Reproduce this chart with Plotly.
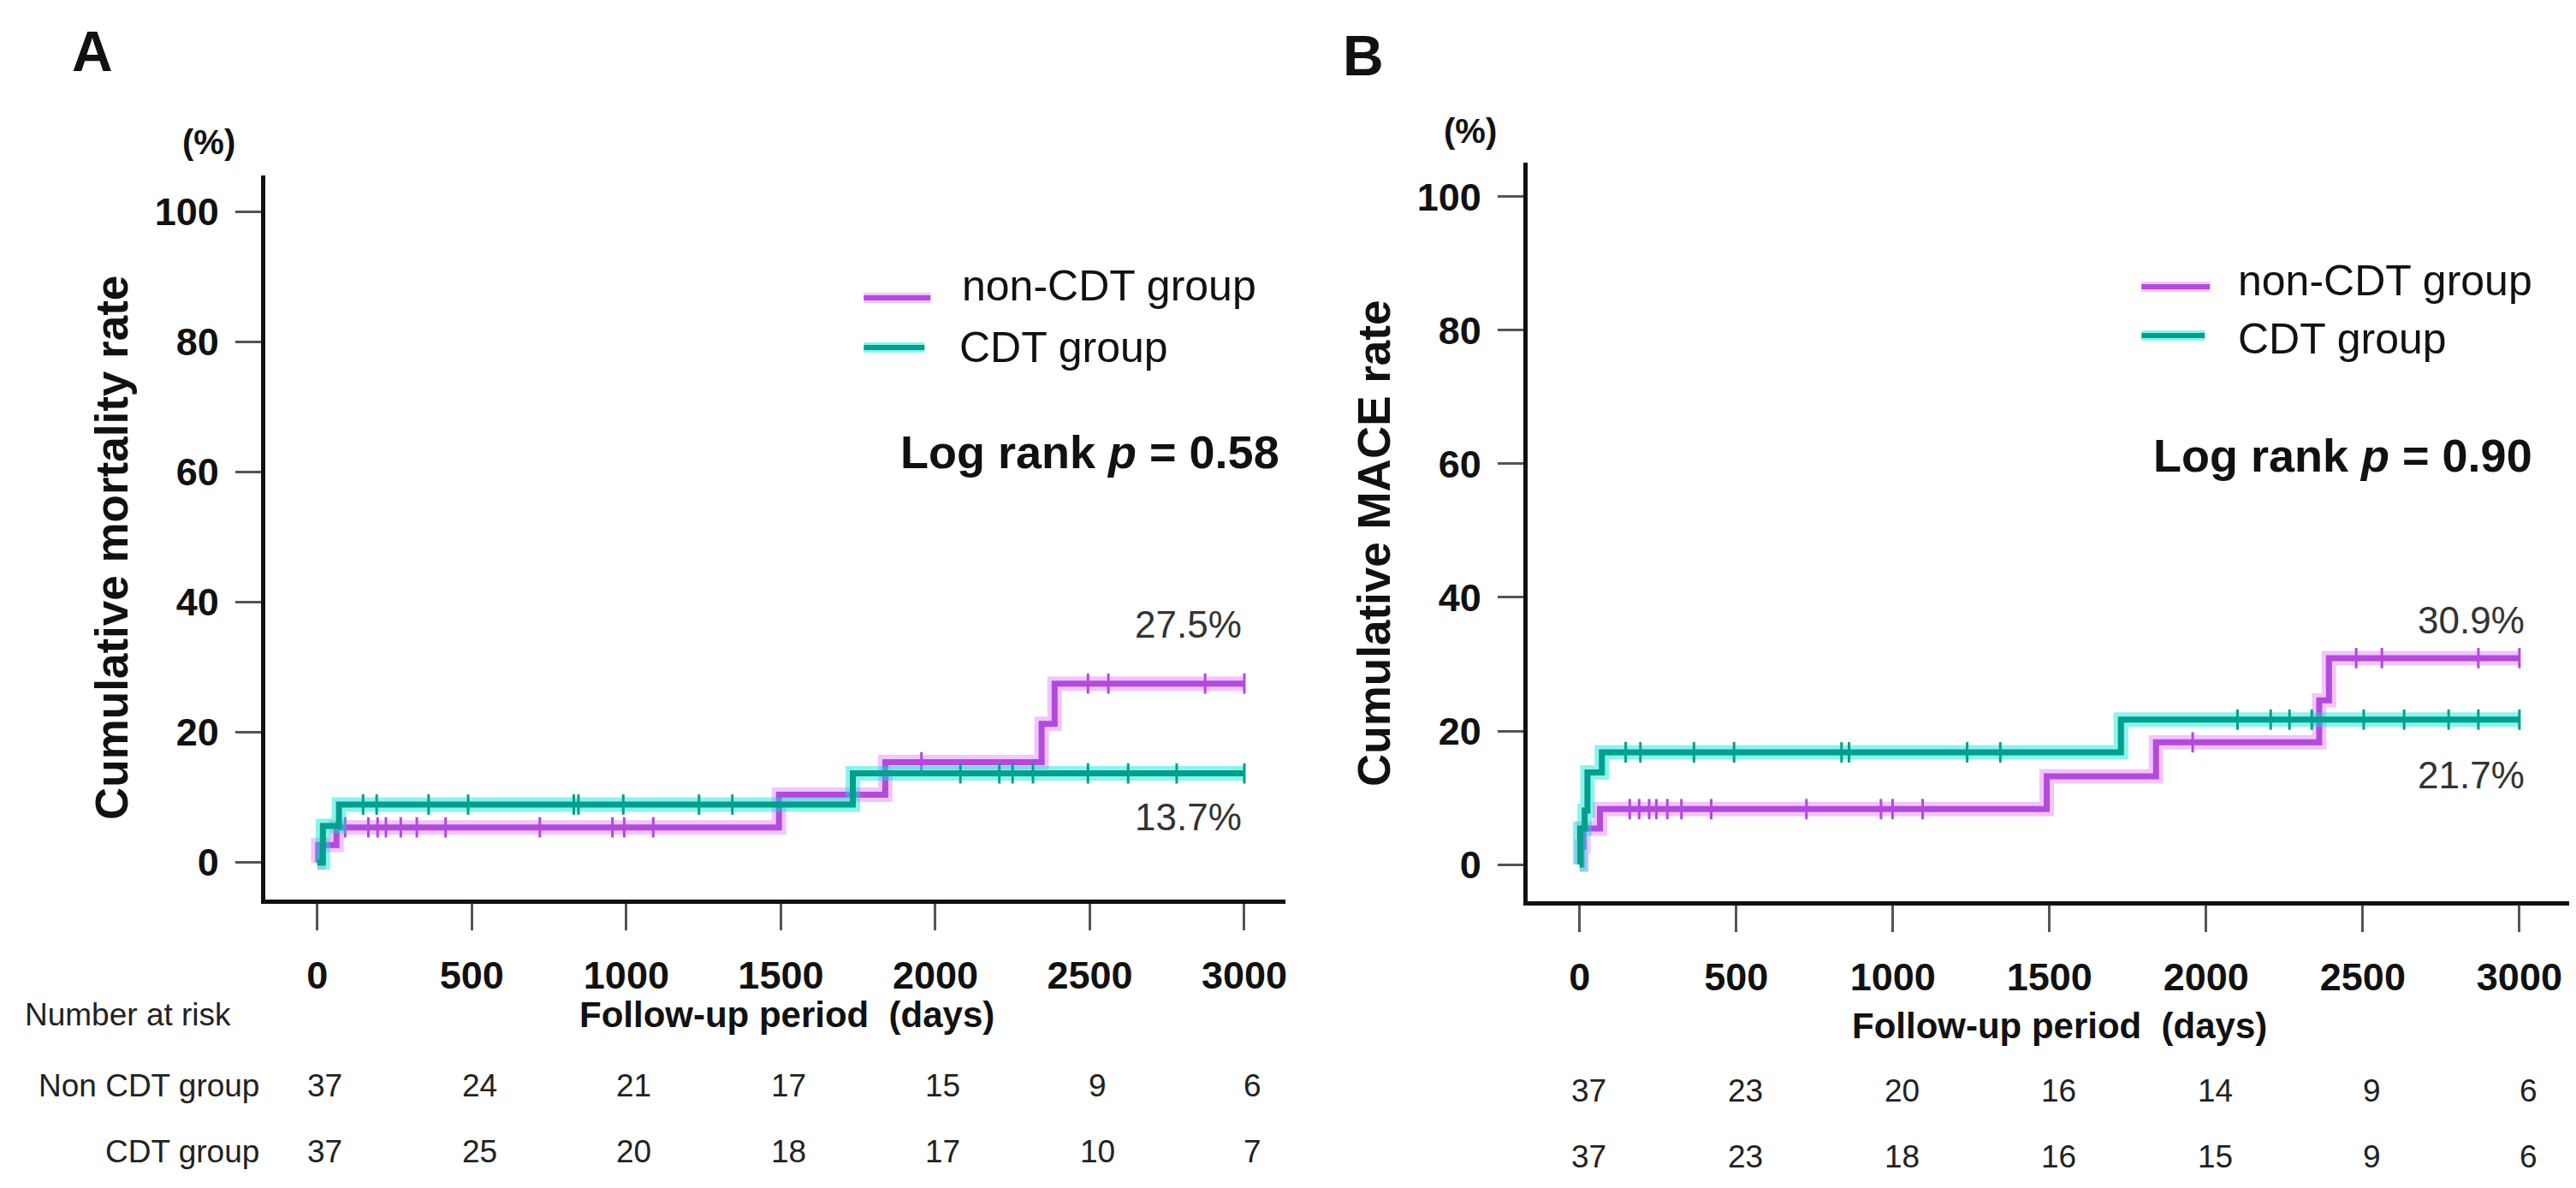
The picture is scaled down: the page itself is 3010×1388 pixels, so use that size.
import bisect
import plotly.graph_objects as go

# ---------------- data ----------------
day_ticks = [0, 500, 1000, 1500, 2000, 2500, 3000]
pct_ticks = [0, 20, 40, 60, 80, 100]

# Panel A: cumulative mortality (step times in days, cumulative %)
a_non_t = [0, 3, 62, 1494, 1838, 2344, 2386, 3000]
a_non_v = [0, 2.7, 5.4, 10.4, 15.4, 21.3, 27.5, 27.5]
a_non_cens = [90, 165, 195, 222, 270, 322, 415, 720, 955, 993, 1087, 1955, 2494, 2560, 2873, 3000]
a_cdt_t = [0, 18, 70, 1733, 3000]
a_cdt_v = [0, 5.6, 8.9, 13.7, 13.7]
a_cdt_cens = [148, 192, 360, 488, 830, 845, 990, 1235, 1343, 2081, 2207, 2250, 2316, 2494, 2624, 2781, 3000]

# Panel B: cumulative MACE
b_non_t = [0, 6, 12, 65, 1491, 1840, 2361, 2392, 3000]
b_non_v = [0, 2.7, 5.4, 8.3, 13.2, 18.3, 24.6, 30.9, 30.9]
b_non_cens = [160, 190, 222, 245, 280, 325, 420, 724, 962, 999, 1095, 1957, 2479, 2561, 2869, 3000]
b_cdt_t = [0, 2, 16, 25, 71, 1728, 3000]
b_cdt_v = [0, 5.4, 8.1, 13.8, 16.8, 21.7, 21.7]
b_cdt_cens = [147, 194, 365, 493, 836, 860, 1237, 1343, 2100, 2206, 2266, 2337, 2503, 2632, 2774, 2869, 3000]

# Number at risk
risk_groups = ["Non CDT group", "CDT group"]
a_risk_non = [37, 24, 21, 17, 15, 9, 6]
a_risk_cdt = [37, 25, 20, 18, 17, 10, 7]
b_risk_non = [37, 23, 20, 16, 14, 9, 6]
b_risk_cdt = [37, 23, 18, 16, 15, 9, 6]

legend_names = ["non-CDT group", "CDT group"]
a_final = ["27.5%", "13.7%"]
b_final = ["30.9%", "21.7%"]
a_p = "0.58"
b_p = "0.90"

# ---------------- styling ----------------
W, H = 3010, 1388
FONT = "Liberation Sans, Arial, sans-serif"
PURPLE = "#B24ADB"
PURPLE_GLOW = "rgba(228,125,255,0.45)"
TEAL = "#00A08C"
TEAL_GLOW = "rgba(0,228,215,0.45)"


def px(x):
    return x / W


def py(y):
    return 1 - y / H


def step_at(ts, vs, t):
    i = bisect.bisect_right(ts, t) - 1
    return vs[max(i, 0)]


fig = go.Figure()


def add_curve(ts, vs, cens, core, glow, xa, ya):
    fig.add_trace(go.Scatter(x=ts, y=vs, mode="lines", line=dict(color=glow, width=17, shape="hv"),
                             xaxis=xa, yaxis=ya, showlegend=False, hoverinfo="skip"))
    fig.add_trace(go.Scatter(x=ts, y=vs, mode="lines", line=dict(color=core, width=7, shape="hv"),
                             xaxis=xa, yaxis=ya, showlegend=False))
    fig.add_trace(go.Scatter(x=cens, y=[step_at(ts, vs, c) for c in cens], mode="markers",
                             marker=dict(symbol="line-ns", size=17, line=dict(color=core, width=3)),
                             xaxis=xa, yaxis=ya, showlegend=False))


add_curve(a_non_t, a_non_v, a_non_cens, PURPLE, PURPLE_GLOW, "x", "y")
add_curve(a_cdt_t, a_cdt_v, a_cdt_cens, TEAL, TEAL_GLOW, "x", "y")
add_curve(b_non_t, b_non_v, b_non_cens, PURPLE, PURPLE_GLOW, "x2", "y2")
add_curve(b_cdt_t, b_cdt_v, b_cdt_cens, TEAL, TEAL_GLOW, "x2", "y2")

tickfont = dict(family=FONT, size=45, color="#111", weight="bold")
common_x = dict(showline=True, linewidth=5, linecolor="#111", ticks="outside", ticklen=31,
                tickwidth=3, tickcolor="#555", showgrid=False, zeroline=False,
                tickvals=day_ticks, tickfont=tickfont, ticklabelstandoff=14)
common_y = dict(showline=True, linewidth=5, linecolor="#111", ticks="outside", ticklen=30,
                tickwidth=3, tickcolor="#555", showgrid=False, zeroline=False,
                tickvals=pct_ticks, tickfont=tickfont, ticklabelstandoff=10)

fig.update_layout(
    width=W, height=H, margin=dict(l=0, r=0, t=0, b=0),
    paper_bgcolor="white", plot_bgcolor="white", showlegend=False,
    xaxis=dict(common_x, domain=[px(302), px(1495)], range=[-169, 3133], anchor="y"),
    yaxis=dict(common_y, domain=[py(1043), py(197)], range=[-5.7, 105.6], anchor="x"),
    xaxis2=dict(common_x, domain=[px(1778), px(2999)], range=[-166.5, 3167], anchor="y2"),
    yaxis2=dict(common_y, domain=[py(1045), py(182)], range=[-5.5, 105.1], anchor="x2"),
)

ann = []


def text(x, y, s, size, bold=False, color="#111", xanchor="center", angle=0):
    ann.append(dict(x=px(x), y=py(y), xref="paper", yref="paper", text=s, showarrow=False,
                    xanchor=xanchor, yanchor="middle", textangle=angle,
                    font=dict(family=FONT, size=size, color=color,
                              weight="bold" if bold else "normal")))


# panel letters
text(100, 52, "A", 66, bold=True)
text(1586, 57, "B", 66, bold=True)
# (%) labels
text(236, 158, "(%)", 40, bold=True)
text(1711, 145, "(%)", 40, bold=True)
# y titles
text(122, 632, "Cumulative mortality rate", 53, bold=True, angle=-90)
text(1598, 627, "Cumulative MACE rate", 53, bold=True, angle=-90)
# x titles
text(912, 1177, "Follow-up period  (days)", 42, bold=True)
text(2400, 1190, "Follow-up period  (days)", 42, bold=True)
# log rank
text(1490, 520, "Log rank <i>p</i> = " + a_p, 54, bold=True, xanchor="right")
text(2955, 524, "Log rank <i>p</i> = " + b_p, 54, bold=True, xanchor="right")

# legends (text)
text(1115, 326, legend_names[0], 50, xanchor="left")
text(1112, 398, legend_names[1], 50, xanchor="left")
text(2607, 320, legend_names[0], 50, xanchor="left")
text(2607, 388, legend_names[1], 50, xanchor="left")

# number at risk labels
RISK_Y1, RISK_Y2 = 1260, 1337
text(19, 1177, "Number at risk", 37, color="#222", xanchor="left")
text(297, RISK_Y1, risk_groups[0], 37, color="#222", xanchor="right")
text(297, RISK_Y2, risk_groups[1], 37, color="#222", xanchor="right")


def risk(xa, d, yv, n):
    ann.append(dict(x=d, y=py(yv), xref=xa, yref="paper", text=str(n), showarrow=False,
                    xanchor="center", yanchor="middle",
                    font=dict(family=FONT, size=37, color="#222")))


for d, n1, n2 in zip(day_ticks, a_risk_non, a_risk_cdt):
    risk("x", d + 25, RISK_Y1, n1)
    risk("x", d + 25, RISK_Y2, n2)
for d, n1, n2 in zip(day_ticks, b_risk_non, b_risk_cdt):
    risk("x2", d + 30, RISK_Y1 + 6, n1)
    risk("x2", d + 30, RISK_Y2 + 6, n2)

# final percentages near curves
ann.append(dict(x=2820, y=36.6, xref="x", yref="y", text=a_final[0], showarrow=False,
                font=dict(family=FONT, size=44, color="#333")))
ann.append(dict(x=2820, y=7.0, xref="x", yref="y", text=a_final[1], showarrow=False,
                font=dict(family=FONT, size=44, color="#333")))
ann.append(dict(x=2847, y=36.6, xref="x2", yref="y2", text=b_final[0], showarrow=False,
                font=dict(family=FONT, size=44, color="#333")))
ann.append(dict(x=2847, y=13.4, xref="x2", yref="y2", text=b_final[1], showarrow=False,
                font=dict(family=FONT, size=44, color="#333")))

fig.update_layout(annotations=ann)

# legend key lines (decoration)
shapes = []
for (x0, x1, y, core, glow) in [(1002, 1080, 340, PURPLE, PURPLE_GLOW), (1002, 1073, 398, TEAL, TEAL_GLOW),
                                (2496, 2576, 327, PURPLE, PURPLE_GLOW), (2496, 2570, 384, TEAL, TEAL_GLOW)]:
    shapes.append(dict(type="line", xref="paper", yref="paper", x0=px(x0), x1=px(x1), y0=py(y), y1=py(y),
                       line=dict(color=glow, width=12)))
    shapes.append(dict(type="line", xref="paper", yref="paper", x0=px(x0), x1=px(x1), y0=py(y), y1=py(y),
                       line=dict(color=core, width=6)))
fig.update_layout(shapes=shapes)

fig.write_html("out.html")
